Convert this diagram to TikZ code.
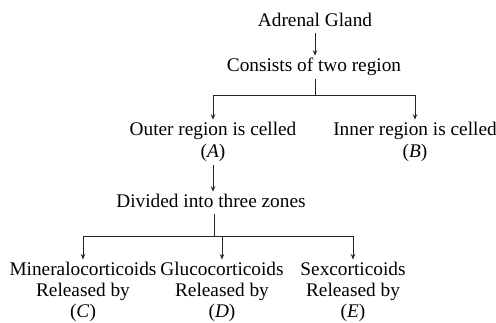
\documentclass[tikz,border=0pt]{standalone}
\usepackage{fontspec}
\setmainfont{Liberation Serif}
\usetikzlibrary{arrows.meta}

\begin{document}
\begin{tikzpicture}[x=1pt, y=-1pt,
    box/.style={anchor=north, align=center, inner sep=2pt, text depth=5pt, font=\fontsize{19.3}{22.5}\selectfont},
    low/.style={box, font=\fontsize{19.3}{21.3}\selectfont},
    link/.style={line width=1pt, black!85},
    arrow/.style={link, -{Stealth[length=5.5pt, width=4.5pt]}}]
    \useasboundingbox (0,0) rectangle (496,322);
    % Nodes
    \node[box] (adrenal) at (315,10.7) {Adrenal Gland};
    \node[box] (consists) at (314,55.7) {Consists of two region};
    \node[box] (outer) at (213,119.7) {Outer region is celled\\(\textit{A})};
    \node[box] (inner) at (415,119.7) {Inner region is celled\\(\textit{B})};
    \node[box] (zones) at (211,191.7) {Divided into three zones};
    \node[low] (mineral) at (83,259.5) {Mineralocorticoids\\Released by\\(\textit{C})};
    \node[low] (gluco) at (222,259.5) {Glucocorticoids\\Released by\\(\textit{D})};
    \node[low] (sex) at (353,259.5) {Sexcorticoids\\Released by\\(\textit{E})};
    \coordinate (fork1) at (315,95);
    \coordinate (fork2) at (214,236);

    % Arrows
    \draw[arrow] (adrenal.south) -- (adrenal.south |- consists.north);
    \draw[link] (consists.south -| fork1) -- (fork1);
    \draw[arrow] (fork1) -| (outer.north);
    \draw[arrow] (fork1) -| (inner.north);
    \draw[arrow] (outer.south) -- (outer.south |- zones.north);
    \draw[link] (zones.south -| fork2) -- (fork2);
    \draw[arrow] (fork2) -| (mineral.north);
    \draw[arrow] (fork2) -| (gluco.north);
    \draw[arrow] (fork2) -| (sex.north);
\end{tikzpicture}
\end{document}
